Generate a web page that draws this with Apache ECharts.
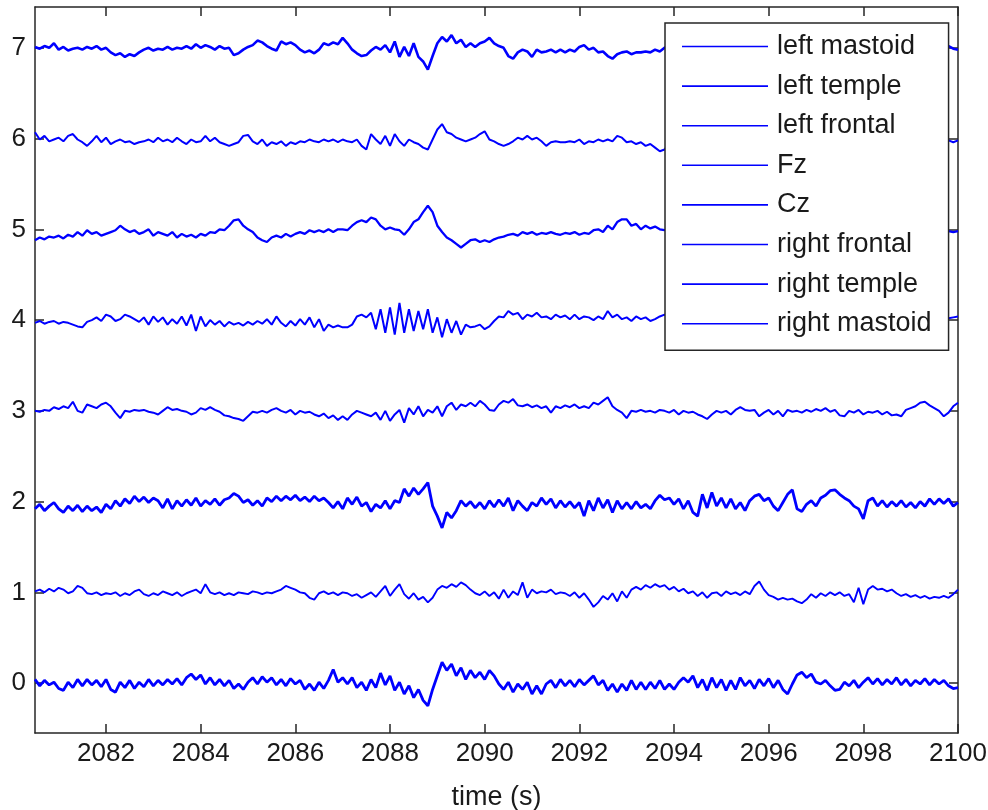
<!DOCTYPE html>
<html>
<head>
<meta charset="utf-8">
<script src="https://cdn.jsdelivr.net/npm/echarts@6/dist/echarts.min.js"></script>
<style>
  html, body { margin: 0; padding: 0; background: #fff; }
  #chart { width: 988px; height: 810px; }
</style>
</head>
<body>
<div id="chart"></div>
<script>
// channel names in legend order, and the vertical offset each trace is drawn at
const channelNames = ["left mastoid", "left temple", "left frontal", "Fz", "Cz",
  "right frontal", "right temple", "right mastoid"];
const channelOffsets = [7, 6, 5, 4, 3, 2, 1, 0];

const xTicks = [2082, 2084, 2086, 2088, 2090, 2092, 2094, 2096, 2098, 2100];
const yTicks = [0, 1, 2, 3, 4, 5, 6, 7];

// samples every 0.1 s starting at 2080.5 s
const t0 = 2080.5, dt = 0.1;

const leftMastoid = [
  0.01, -0.01, 0.02, 0.00, 0.05, -0.02, 0.01, -0.03, -0.01, 0.00,
  -0.02, 0.01, -0.01, 0.02, -0.02, 0.00, -0.05, -0.08, -0.06, -0.10,
  -0.07, -0.09, -0.05, -0.02, 0.00, -0.03, -0.01, -0.02, 0.01, -0.02,
  0.00, -0.01, 0.02, -0.01, 0.04, 0.00, 0.03, 0.01, -0.02, 0.02,
  -0.01, 0.00, -0.08, -0.06, -0.02, 0.01, 0.03, 0.08, 0.06, 0.02,
  -0.01, -0.03, 0.07, 0.04, 0.06, 0.03, -0.02, -0.05, -0.03, -0.06,
  -0.02, 0.05, 0.03, 0.06, 0.04, 0.11,
  0.05, -0.02, -0.06, -0.09, -0.08, -0.03, 0.01, -0.02, 0.03, -0.05,
  0.07, -0.10, 0.01, -0.09, 0.05, -0.10, -0.15, -0.24, -0.09, 0.05,
  0.12, 0.07, 0.14, 0.05, 0.09, 0.01, 0.05, 0.01, 0.05, 0.07,
  0.11, 0.05, 0.02, 0.00, -0.09, -0.12, -0.05, -0.02, -0.04, -0.10,
  -0.02, -0.05, -0.04, -0.02, -0.05, -0.02, -0.05, -0.02, -0.04, 0.01,
  0.03, -0.02, 0.00, -0.05, -0.04, -0.09, -0.12, -0.07, -0.05, -0.04,
  -0.07, -0.05, -0.05, -0.04, -0.05, -0.02, -0.04, 0.00,
  0.02, -0.03, 0.01, -0.02, 0.03, -0.01, 0.02, -0.03, 0.00, 0.02,
  -0.02, 0.01, -0.03, 0.02, 0.00, -0.02, 0.03, -0.01, 0.01, -0.03,
  0.02, -0.01, 0.00, 0.03, -0.02, 0.01, -0.03, 0.02, -0.01, 0.00,
  0.02, -0.02, 0.03, -0.01, 0.01, -0.03, 0.02, 0.00, -0.02, 0.01,
  0.03, -0.01, -0.03, 0.02, 0.00, -0.02, 0.01, -0.01, 0.03, -0.02,
  0.02, -0.03, 0.01, 0.00, -0.02, 0.02, -0.01, 0.01, -0.03, 0.02,
  -0.01, -0.02
];

const leftTemple = [
  0.07, -0.01, 0.03, -0.03, -0.01, 0.01, -0.03, 0.03, 0.05, -0.01,
  -0.04, -0.08, -0.03, 0.03, -0.04, 0.01, -0.06, -0.03, -0.01, -0.04,
  -0.03, -0.06, -0.04, -0.03, -0.01, -0.04, 0.01, -0.03, -0.01, -0.04,
  0.01, -0.03, -0.06, -0.01, -0.04, -0.03, 0.03, -0.03, 0.01, -0.04,
  -0.06, -0.08, -0.06, -0.04, 0.03, 0.04, -0.03, -0.06, -0.01, -0.08,
  -0.04, -0.06, -0.03, -0.08, -0.04, -0.06, -0.03, -0.04, -0.01, -0.03,
  -0.04, -0.01, -0.03, -0.01, -0.04, -0.01,
  -0.03, -0.04, -0.01, -0.08, -0.12, 0.05, -0.01, -0.06, 0.03, -0.08,
  0.05, -0.03, -0.08, -0.01, -0.04, -0.06, -0.10, -0.12, -0.01, 0.10,
  0.16, 0.07, 0.05, 0.01, -0.01, -0.03, -0.01, 0.01, 0.05, 0.08,
  -0.01, -0.03, -0.06, -0.08, -0.06, -0.03, 0.01, -0.01, 0.03, -0.01,
  0.01, -0.03, -0.08, -0.04, -0.03, -0.04, -0.04, -0.03, -0.04, -0.01,
  -0.06, -0.03, -0.04, -0.01, -0.03, -0.01, -0.03, 0.03, 0.01, -0.04,
  -0.03, -0.06, -0.04, -0.08, -0.06, -0.10, -0.14, -0.12,
  -0.05, -0.02, -0.04, -0.01, -0.03, -0.05, -0.02, -0.04, 0.00, -0.03,
  -0.05, -0.01, -0.03, -0.04, -0.02, -0.05, -0.03, -0.01, -0.04, -0.02,
  -0.03, -0.05, -0.02, -0.04, -0.01, -0.03, -0.05, -0.02, -0.03, -0.04,
  -0.01, -0.03, -0.05, -0.02, -0.04, -0.03, -0.01, -0.04, -0.02, -0.05,
  -0.03, -0.01, -0.04, -0.02, -0.03, -0.05, -0.02, -0.04, -0.01, -0.03,
  -0.05, -0.02, -0.04, -0.03, -0.01, -0.04, -0.02, -0.05, -0.03, -0.02,
  -0.04, -0.02
];

const leftFrontal = [
  -0.12, -0.09, -0.11, -0.08, -0.09, -0.07, -0.10, -0.06, -0.08, -0.03,
  -0.07, -0.01, -0.05, -0.03, -0.07, -0.05, -0.03, -0.01, 0.04, 0.00,
  -0.03, -0.01, -0.05, -0.03, 0.00, -0.07, -0.03, -0.05, -0.07, -0.03,
  -0.09, -0.05, -0.08, -0.06, -0.09, -0.05, -0.07, -0.03, -0.04, 0.00,
  -0.01, 0.04, 0.10, 0.11, 0.04, 0.00, -0.03, -0.09, -0.12, -0.14,
  -0.09, -0.07, -0.09, -0.05, -0.08, -0.05, -0.03, -0.05, -0.01, -0.03,
  -0.01, -0.03, 0.00, -0.03, 0.00, 0.00,
  -0.01, 0.04, 0.08, 0.10, 0.08, 0.13, 0.11, 0.04, 0.00, 0.02,
  0.00, -0.01, -0.06, 0.00, 0.08, 0.11, 0.19, 0.26, 0.19, 0.04,
  -0.03, -0.09, -0.12, -0.16, -0.20, -0.16, -0.12, -0.11, -0.14, -0.12,
  -0.14, -0.11, -0.09, -0.08, -0.06, -0.05, -0.07, -0.03, -0.05, -0.03,
  -0.06, -0.04, -0.05, -0.03, -0.05, -0.06, -0.04, -0.05, -0.03, -0.06,
  -0.04, -0.05, -0.01, 0.00, -0.03, 0.04, 0.00, 0.08, 0.11, 0.11,
  0.04, 0.06, 0.00, 0.04, 0.01, 0.03, 0.00, -0.01,
  0.01, -0.02, 0.02, -0.01, -0.03, 0.00, 0.02, -0.02, 0.01, -0.03,
  0.00, 0.02, -0.01, -0.02, 0.01, -0.03, 0.02, 0.00, -0.02, 0.01,
  -0.01, 0.02, -0.03, 0.00, 0.01, -0.02, 0.02, -0.01, 0.00, -0.03,
  0.01, -0.02, 0.02, 0.00, -0.01, 0.01, -0.03, 0.02, -0.02, 0.00,
  0.01, -0.02, 0.02, -0.01, -0.03, 0.01, 0.00, -0.02, 0.02, -0.01,
  0.00, -0.03, 0.01, -0.02, 0.02, 0.00, -0.01, -0.03, 0.01, -0.02,
  -0.03, -0.02
];

const fz = [
  -0.03, -0.01, -0.04, -0.02, -0.01, -0.04, -0.02, -0.03, -0.05, -0.07,
  -0.08, -0.02, 0.00, 0.03, -0.01, 0.06, 0.04, -0.01, 0.01, 0.06,
  0.04, 0.01, -0.02, 0.03, -0.05, 0.04, -0.02, 0.03, -0.05, 0.01,
  -0.04, 0.04, -0.06, 0.06, -0.12, 0.04, -0.07, 0.00, -0.05, -0.01,
  -0.07, -0.02, -0.05, -0.03, -0.06, -0.02, -0.05, -0.01, -0.04, 0.01,
  -0.05, 0.04, -0.03, -0.07, -0.01, -0.06, 0.01, -0.05, 0.03, -0.08,
  0.01, -0.12, -0.05, -0.08, -0.06, -0.08,
  -0.08, -0.05, 0.04, 0.06, 0.03, 0.08, -0.10, 0.12, -0.14, 0.14,
  -0.16, 0.19, -0.14, 0.12, -0.12, 0.10, -0.10, 0.12, -0.14, 0.03,
  -0.19, 0.01, -0.14, -0.01, -0.16, -0.05, -0.08, -0.07, -0.05, -0.10,
  -0.07, -0.01, 0.04, 0.03, 0.10, 0.06, 0.08, 0.01, 0.06, 0.04,
  0.08, 0.03, 0.04, 0.01, 0.06, 0.03, 0.05, 0.01, 0.06, 0.01,
  0.04, 0.03, 0.00, 0.04, 0.01, 0.10, 0.03, 0.06, 0.01, 0.03,
  -0.01, 0.04, 0.01, 0.03, -0.01, 0.01, 0.04, 0.06,
  0.03, 0.00, 0.04, 0.01, 0.05, 0.02, -0.01, 0.03, 0.01, 0.04,
  0.00, 0.03, 0.05, 0.01, 0.02, 0.04, 0.00, 0.03, 0.02, 0.05,
  0.01, 0.03, 0.00, 0.04, 0.02, 0.05, 0.01, 0.03, 0.00, 0.04,
  0.02, 0.01, 0.05, 0.02, 0.03, 0.00, 0.04, 0.01, 0.03, 0.05,
  0.02, 0.00, 0.03, 0.04, 0.01, 0.03, 0.02, 0.05, 0.00, 0.03,
  0.01, 0.04, 0.02, 0.03, 0.00, 0.05, 0.02, 0.01, 0.04, 0.02,
  0.03, 0.04
];

const cz = [
  0.00, -0.01, 0.01, 0.00, 0.04, 0.02, 0.05, 0.03, 0.10, 0.00,
  -0.02, 0.07, 0.05, 0.03, 0.07, 0.09, 0.05, -0.02, -0.08, 0.00,
  -0.01, 0.01, 0.00, 0.01, -0.01, -0.02, -0.04, 0.00, 0.04, 0.01,
  0.02, 0.00, -0.01, -0.04, -0.02, 0.03, 0.01, 0.04, 0.01, -0.01,
  -0.05, -0.06, -0.08, -0.09, -0.11, -0.06, -0.01, -0.02, 0.00, -0.02,
  0.01, 0.03, 0.00, -0.02, 0.01, -0.04, 0.00, -0.02, -0.01, -0.04,
  -0.06, -0.03, -0.08, -0.05, -0.10, -0.06,
  -0.10, -0.04, 0.00, -0.02, -0.04, -0.06, -0.02, -0.10, 0.00, -0.11,
  -0.04, 0.01, -0.13, 0.03, -0.04, 0.05, -0.06, 0.01, -0.02, 0.05,
  -0.06, 0.05, 0.09, 0.01, 0.07, 0.05, 0.09, 0.05, 0.11, 0.07,
  0.01, 0.00, 0.07, 0.11, 0.09, 0.13, 0.06, 0.05, 0.07, 0.04,
  0.06, 0.03, 0.05, -0.02, 0.05, 0.03, 0.06, 0.04, 0.07, 0.03,
  0.05, 0.03, 0.09, 0.07, 0.11, 0.15, 0.05, 0.01, -0.02, -0.08,
  0.00, -0.01, 0.01, -0.01, 0.00, -0.02, 0.01, 0.00,
  -0.02, 0.01, -0.04, 0.00, -0.02, -0.01, -0.04, -0.06, -0.09, -0.04,
  0.00, -0.02, 0.00, -0.04, 0.01, 0.04, 0.01, 0.00, 0.01, -0.06,
  -0.02, 0.01, -0.04, 0.00, -0.06, 0.01, -0.01, 0.00, -0.02, 0.01,
  -0.01, 0.02, 0.00, 0.03, -0.01, 0.01, -0.05, -0.06, 0.00, -0.02,
  0.01, -0.04, -0.01, -0.02, 0.00, -0.04, -0.01, -0.05, -0.04, -0.06,
  0.01, 0.03, 0.05, 0.09, 0.10, 0.06, 0.03, 0.00, -0.06, -0.02,
  0.05, 0.09
];

const rightFrontal = [
  -0.08, -0.03, -0.10, -0.05, -0.01, -0.08, -0.12, -0.05, -0.10, -0.04,
  -0.11, -0.05, -0.10, -0.06, -0.12, -0.03, -0.08, 0.01, -0.05, 0.03,
  -0.02, 0.06, 0.00, 0.05, -0.01, 0.04, 0.01, -0.07, 0.03, -0.08,
  0.01, -0.05, 0.02, -0.04, 0.04, -0.05, 0.01, -0.03, 0.03, -0.04,
  0.02, 0.04, 0.09, 0.06, -0.01, 0.02, -0.04, 0.01, -0.05, 0.04,
  0.00, 0.06, 0.01, 0.06, 0.02, 0.07, 0.01, 0.05, 0.00, 0.06,
  0.01, 0.04, -0.01, -0.07, 0.00, -0.08,
  0.04, -0.03, 0.05, -0.05, -0.01, -0.11, -0.03, -0.07, 0.01, -0.08,
  0.01, -0.01, 0.14, 0.06, 0.15, 0.08, 0.14, 0.21, -0.05, -0.16,
  -0.29, -0.12, -0.18, -0.10, 0.01, -0.05, 0.00, -0.07, -0.01, -0.08,
  0.01, -0.06, 0.02, -0.05, 0.04, -0.10, 0.01, -0.05, -0.10, -0.01,
  -0.05, 0.04, -0.03, 0.03, -0.07, 0.01, -0.06, 0.00, -0.07, -0.01,
  -0.16, 0.01, -0.10, 0.04, -0.07, 0.02, -0.12, 0.01, -0.08, -0.01,
  -0.08, 0.00, -0.07, -0.03, -0.08, 0.01, 0.07, 0.02,
  0.04, -0.03, 0.03, -0.08, 0.01, -0.12, -0.16, 0.08, -0.07, 0.10,
  -0.05, 0.04, -0.07, 0.03, -0.08, -0.01, -0.10, 0.01, 0.06, 0.08,
  0.01, 0.04, -0.05, -0.10, -0.01, 0.08, 0.13, -0.08, -0.11, -0.03,
  0.01, -0.05, 0.04, 0.07, 0.12, 0.13, 0.08, 0.04, 0.01, -0.05,
  -0.08, -0.19, 0.01, 0.04, -0.05, 0.01, -0.06, 0.00, -0.05, 0.01,
  -0.06, -0.01, -0.07, 0.00, -0.05, 0.03, -0.03, 0.03, -0.02, 0.03,
  -0.05, -0.01
];

const rightTemple = [
  0.01, 0.03, 0.00, 0.04, 0.01, 0.05, 0.03, -0.01, 0.01, 0.07,
  0.05, -0.01, -0.02, 0.00, -0.03, -0.01, -0.02, 0.00, -0.04, -0.01,
  -0.03, 0.01, 0.03, -0.02, -0.04, -0.01, -0.03, 0.01, -0.01, -0.03,
  0.00, -0.04, -0.01, 0.01, 0.03, -0.01, 0.09, 0.00, -0.02, 0.00,
  -0.03, -0.01, -0.03, 0.00, -0.01, -0.02, 0.01, 0.00, -0.02, 0.00,
  -0.01, 0.01, 0.03, 0.07, 0.05, 0.03, 0.00, -0.01, -0.06, -0.08,
  -0.01, 0.01, -0.02, 0.00, -0.03, 0.00,
  -0.01, -0.04, -0.02, -0.06, -0.03, 0.00, -0.05, 0.01, 0.07, -0.04,
  0.03, 0.09, -0.02, -0.07, -0.01, -0.08, -0.05, -0.11, -0.06, 0.03,
  0.07, 0.05, 0.09, 0.06, 0.11, 0.08, 0.03, -0.01, -0.03, 0.01,
  -0.04, 0.00, -0.07, 0.03, -0.06, 0.01, -0.03, 0.11, -0.06, 0.03,
  -0.01, 0.01, 0.00, 0.03, -0.02, 0.00, -0.01, -0.04, 0.00, -0.06,
  -0.01, -0.08, -0.16, -0.11, -0.04, -0.08, -0.01, -0.10, 0.01, -0.06,
  0.03, 0.06, 0.03, 0.08, 0.05, 0.09, 0.06, 0.08,
  0.03, 0.06, 0.01, 0.04, -0.01, 0.01, -0.04, 0.00, -0.06, -0.01,
  0.00, -0.04, 0.01, -0.02, 0.00, -0.03, 0.01, -0.02, 0.07, 0.12,
  0.03, -0.03, -0.05, -0.08, -0.06, -0.08, -0.07, -0.10, -0.12, -0.08,
  -0.02, -0.06, -0.01, -0.04, 0.00, -0.03, 0.00, -0.04, -0.02, -0.11,
  0.05, -0.13, 0.03, 0.07, 0.03, 0.04, 0.01, 0.03, -0.01, -0.04,
  -0.02, -0.05, -0.03, -0.06, -0.04, -0.07, -0.05, -0.06, -0.04, -0.06,
  -0.02, 0.03
];

const rightMastoid = [
  0.04, -0.03, 0.03, -0.02, 0.01, -0.06, -0.08, 0.01, -0.05, 0.04,
  -0.03, 0.04, -0.02, 0.03, -0.04, 0.04, -0.07, -0.10, 0.01, -0.05,
  0.03, -0.06, 0.01, -0.04, 0.04, -0.03, 0.03, -0.02, 0.04, -0.01,
  0.05, -0.02, 0.06, 0.10, 0.04, 0.09, -0.01, 0.06, -0.02, 0.04,
  -0.03, 0.03, -0.06, -0.01, -0.07, 0.01, 0.06, -0.01, 0.07, 0.01,
  0.06, -0.02, 0.04, -0.03, 0.05, -0.01, 0.03, -0.07, -0.01, -0.08,
  0.01, -0.06, 0.03, 0.15, 0.01, 0.06,
  -0.01, 0.06, -0.05, 0.01, -0.08, 0.04, -0.05, 0.11, -0.02, 0.08,
  -0.08, 0.01, -0.12, -0.03, -0.16, -0.07, -0.19, -0.25, -0.07, 0.08,
  0.23, 0.14, 0.21, 0.08, 0.17, 0.04, 0.14, 0.06, 0.12, 0.04,
  0.14, 0.08, -0.01, -0.07, 0.01, -0.10, -0.01, -0.07, 0.01, -0.12,
  -0.03, -0.12, -0.01, 0.03, -0.05, 0.04, -0.03, 0.03, -0.04, 0.04,
  -0.02, 0.03, 0.08, -0.02, 0.03, -0.08, -0.01, -0.10, -0.01, -0.08,
  0.03, -0.07, 0.01, -0.07, 0.01, -0.06, 0.03, -0.07,
  -0.01, -0.07, 0.01, 0.06, 0.01, 0.08, -0.05, 0.04, -0.08, 0.06,
  -0.05, 0.04, -0.08, 0.03, -0.07, 0.06, -0.03, 0.03, -0.06, 0.04,
  -0.03, 0.05, -0.05, 0.03, -0.07, -0.12, -0.01, 0.09, 0.12, 0.06,
  0.10, 0.01, -0.01, 0.03, -0.03, -0.08, -0.07, 0.01, -0.03, 0.03,
  -0.05, 0.01, 0.06, -0.01, 0.05, -0.02, 0.04, -0.01, 0.06, -0.02,
  0.04, -0.03, 0.03, -0.01, 0.05, -0.02, 0.04, -0.01, 0.03, -0.03,
  -0.06, -0.05
];

const channelData = [leftMastoid, leftTemple, leftFrontal, fz, cz,
  rightFrontal, rightTemple, rightMastoid];

// stroke width per trace: the denser channels read as heavier bands
const traceWidths = [2.6, 2.0, 2.3, 2.0, 2.0, 2.8, 1.9, 2.8];

const FONT = "Liberation Sans";
const AXIS_COLOR = "#262626";

function toPoints(values, offset) {
  return values.map((v, i) => [+(t0 + i * dt).toFixed(2), offset + v]);
}

const chart = echarts.init(document.getElementById("chart"), null, { renderer: "canvas" });

const axisLine = { show: true, onZero: false, lineStyle: { color: AXIS_COLOR, width: 1.5 } };
const tickStyle = { color: AXIS_COLOR, width: 1.5 };

chart.setOption({
  animation: false,
  backgroundColor: "#fff",
  grid: { left: 35, right: 30, top: 7, bottom: 77, containLabel: false, outerBoundsMode: "none" },
  legend: {
    orient: "vertical",
    left: 665,
    top: 23,
    padding: [10, 17, 13, 17],
    itemGap: 12.6,
    itemWidth: 86,
    itemHeight: 1.6,
    icon: "rect",
    selectedMode: false,
    backgroundColor: "#fff",
    borderColor: AXIS_COLOR,
    borderWidth: 1.5,
    borderRadius: 0,
    textStyle: { fontFamily: FONT, fontSize: 27, color: "#1a1a1a", padding: [0, 0, 0, 4] },
    data: channelNames
  },
  xAxis: [
    {
      type: "value",
      position: "bottom",
      min: 2080.5,
      max: 2100,
      axisLine: axisLine,
      axisTick: { show: true, inside: true, length: 9, customValues: xTicks, lineStyle: tickStyle },
      axisLabel: {
        customValues: xTicks,
        formatter: (v) => String(v),
        fontFamily: FONT,
        fontSize: 26,
        color: "#1a1a1a",
        margin: 8
      },
      splitLine: { show: false },
      name: "time (s)",
      nameLocation: "middle",
      nameGap: 51,
      nameTextStyle: { fontFamily: FONT, fontSize: 27, color: "#1a1a1a" }
    },
    {
      type: "value",
      position: "top",
      min: 2080.5,
      max: 2100,
      axisLine: axisLine,
      axisTick: { show: true, inside: true, length: 9, customValues: xTicks, lineStyle: tickStyle },
      axisLabel: { show: false },
      splitLine: { show: false }
    }
  ],
  yAxis: [
    {
      type: "value",
      position: "left",
      min: -0.55,
      max: 7.45,
      axisLine: axisLine,
      axisTick: { show: true, inside: true, length: 9, customValues: yTicks, lineStyle: tickStyle },
      axisLabel: {
        customValues: yTicks,
        formatter: (v) => String(v),
        fontFamily: FONT,
        fontSize: 26,
        color: "#1a1a1a",
        margin: 9
      },
      splitLine: { show: false }
    },
    {
      type: "value",
      position: "right",
      min: -0.55,
      max: 7.45,
      axisLine: axisLine,
      axisTick: { show: true, inside: true, length: 9, customValues: yTicks, lineStyle: tickStyle },
      axisLabel: { show: false },
      splitLine: { show: false }
    }
  ],
  series: channelNames.map((name, k) => ({
    name: name,
    type: "line",
    xAxisIndex: 0,
    yAxisIndex: 0,
    symbol: "none",
    showSymbol: false,
    silent: true,
    color: "#0000ff",
    lineStyle: { color: "#0000ff", width: traceWidths[k] },
    data: toPoints(channelData[k], channelOffsets[k])
  }))
});
</script>
</body>
</html>
